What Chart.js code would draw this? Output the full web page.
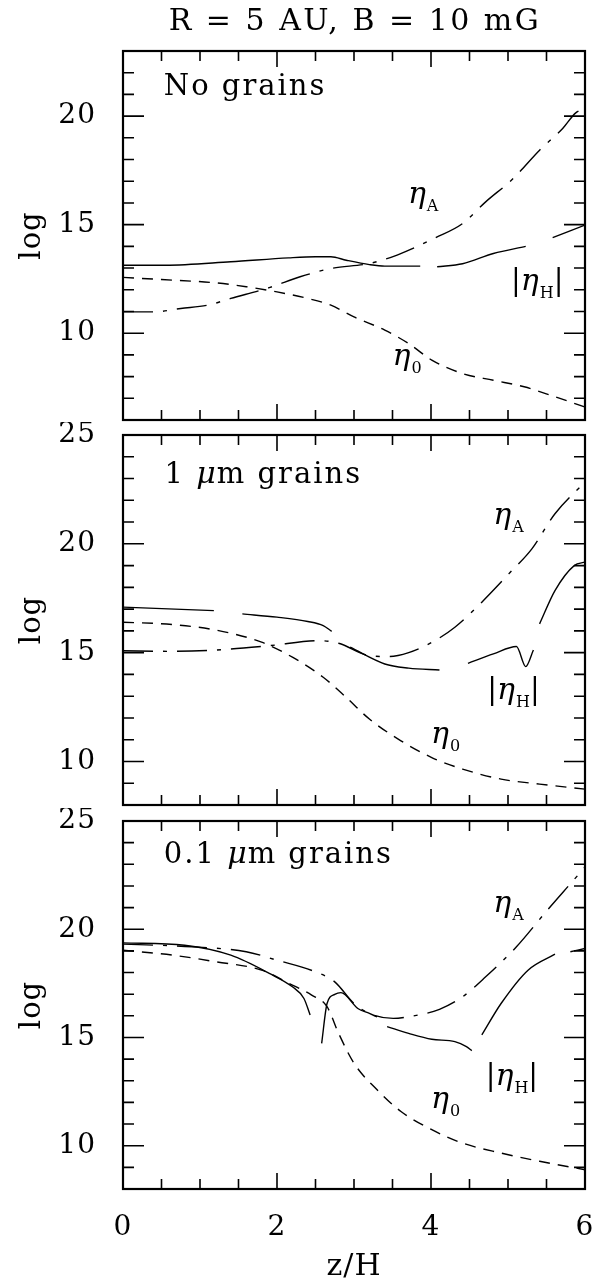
<!DOCTYPE html>
<html lang="en">
<head>
<meta charset="UTF-8">
<title>Resistivity profiles, R = 5 AU</title>
<style>
  body { margin: 0; background: #fff; width: 596px; height: 1282px; position: relative; overflow: hidden; }
  canvas { position: absolute; left: 0; }
  #c1 { top: 0; }
  #c2 { top: 422px; }
  #c3 { top: 808px; }
</style>
</head>
<body>
<canvas id="c1" width="596" height="425"></canvas>
<canvas id="c2" width="596" height="393"></canvas>
<canvas id="c3" width="596" height="474"></canvas>

<script src="https://cdn.jsdelivr.net/npm/chart.js"></script>
<script>
// [z/H, log eta] pairs; null marks a break in the curve
const noGrainsOhm = [[0,12.57],[0.5,12.47],[1.2,12.32],[1.6,12.14],[2.0,11.9],[2.4,11.6],[2.7,11.29],[3.0,10.75],[3.4,10.14],[3.71,9.52],[4.01,8.76],[4.41,8.14],[4.81,7.83],[5.21,7.53],[5.61,7.07],[6.0,6.6]];
const noGrainsHall = [[0,13.13],[0.55,13.13],[1.4,13.29],[2.15,13.47],[2.5,13.52],[2.7,13.52],[2.9,13.36],[3.2,13.16],[3.4,13.09],[3.86,13.09],[3.95,null],[4.08,13.06],[4.41,13.2],[4.81,13.67],[5.23,14.0],[5.4,null],[5.58,14.4],[6.0,14.98]];
const noGrainsAmbi = [[0,10.98],[0.4,10.98],[0.75,11.14],[1.1,11.29],[1.4,11.6],[1.9,12.1],[2.3,12.6],[2.7,12.98],[3.2,13.21],[3.56,13.6],[4.06,14.4],[4.41,15.05],[4.71,16.05],[5.06,17.1],[5.41,18.43],[5.71,19.43],[5.88,20.15],[6.0,20.35]];

const micronOhm = [[0,16.4],[0.65,16.29],[1.2,16.04],[1.8,15.48],[2.2,14.79],[2.6,13.87],[2.9,12.94],[3.2,11.95],[3.61,10.95],[4.01,10.18],[4.41,9.65],[4.91,9.19],[5.41,8.96],[6.0,8.73]];
const micronHall = [[0,17.09],[1.18,16.93],[1.35,null],[1.55,16.78],[2.0,16.63],[2.4,16.43],[2.6,16.24],[2.71,15.98],[2.83,null],[2.95,15.25],[3.4,14.48],[3.71,14.29],[4.11,14.2],[4.3,null],[4.48,14.51],[4.81,14.94],[5.11,15.28],[5.23,14.36],[5.33,15.12],[5.37,null],[5.41,16.32],[5.61,17.85],[5.86,19.0],[6.0,19.16]];
const micronAmbi = [[0,15.09],[0.6,15.06],[1.2,15.12],[1.9,15.32],[2.55,15.55],[2.8,15.43],[3.2,14.86],[3.46,14.82],[3.71,15.0],[4.01,15.47],[4.31,16.17],[4.66,17.32],[5.01,18.62],[5.31,19.77],[5.61,21.38],[6.0,22.84]];

const tenthOhm = [[0,19.03],[0.65,18.8],[1.2,18.5],[1.8,18.11],[2.2,17.42],[2.45,16.96],[2.65,16.42],[2.8,15.19],[3.0,13.81],[3.3,12.58],[3.61,11.58],[4.01,10.74],[4.41,10.12],[4.91,9.66],[5.41,9.28],[6.0,8.89]];
const tenthHall = [[0,19.37],[0.8,19.26],[1.4,18.8],[1.9,17.96],[2.2,17.34],[2.35,16.8],[2.43,16.04],[2.5,null],[2.58,14.73],[2.65,16.57],[2.75,16.99],[2.83,17.07],[3.05,16.34],[3.2,16.11],[3.3,15.95],[3.38,null],[3.43,15.5],[3.71,15.19],[4.01,14.92],[4.31,14.81],[4.46,14.58],[4.53,14.39],[4.6,null],[4.66,15.12],[4.91,16.57],[5.26,18.11],[5.61,18.85],[5.7,null],[5.81,18.96],[6.0,19.11]];
const tenthAmbi = [[0,19.31],[0.9,19.19],[1.6,18.96],[2.0,18.57],[2.5,18.03],[2.75,17.57],[3.0,16.57],[3.2,16.11],[3.51,15.88],[3.71,15.96],[4.11,16.3],[4.41,16.88],[4.71,17.8],[5.11,19.19],[5.51,20.88],[5.81,22.1],[6.0,22.87]];

const xTicks = [0, 2, 4, 6];
const serif = '"DejaVu Serif", serif';

const OHM_DASH = [11, 8];
const AMBI_DASH = [30, 10, 4, 10];

function line(pts, dash) {
  return {
    data: pts.map(([x, y]) => ({ x, y })),
    borderColor: '#000',
    borderWidth: 1.4,
    borderDash: dash,
    pointRadius: 0,
    fill: false,
    cubicInterpolationMode: 'monotone'
  };
}

// frame with inward ticks on all four sides, plus free text
const frameAndText = {
  id: 'frameAndText',
  beforeDraw(chart) {
    chart.ctx.letterSpacing = '1px';
  },
  afterDraw(chart, args, opts) {
    const { ctx, chartArea: a, scales: { x, y } } = chart;
    ctx.save();
    ctx.strokeStyle = '#000';
    ctx.lineWidth = 1.6;
    ctx.beginPath();
    for (let z = 0.5; z < 6; z += 0.5) {
      const px = x.getPixelForValue(z);
      const len = z % 2 === 0 ? 16 : 10;
      ctx.moveTo(px, a.bottom); ctx.lineTo(px, a.bottom - len);
      ctx.moveTo(px, a.top); ctx.lineTo(px, a.top + len);
    }
    for (let v = Math.ceil(y.min); v <= y.max; v++) {
      const py = y.getPixelForValue(v);
      if (py <= a.top + 1 || py >= a.bottom - 1) continue;
      const len = v % 5 === 0 ? 21 : 11;
      ctx.moveTo(a.left, py); ctx.lineTo(a.left + len, py);
      ctx.moveTo(a.right, py); ctx.lineTo(a.right - len, py);
    }
    ctx.stroke();
    ctx.lineWidth = 2.2;
    ctx.strokeRect(a.left, a.top, a.right - a.left, a.bottom - a.top);

    ctx.fillStyle = '#000';
    ctx.textBaseline = 'alphabetic';
    if (opts.title) {
      ctx.font = '30px ' + serif;
      ctx.letterSpacing = '2.5px';
      ctx.textAlign = 'center';
      ctx.fillText(opts.title, (a.left + a.right) / 2 + 1, 30);
    }
    ctx.textAlign = 'left';
    (opts.texts || []).forEach(t => {
      let px = x.getPixelForValue(t.z);
      const py = y.getPixelForValue(t.v);
      t.parts.forEach(p => {
        ctx.font = p.font;
        ctx.letterSpacing = (p.ls || 0) + 'px';
        ctx.fillText(p.s, px, py + (p.dy || 0));
        px += ctx.measureText(p.s).width + (p.gap || 0);
      });
    });
    ctx.restore();
    ctx.letterSpacing = '0px';
  }
};

const ITAL = 'italic 30px ' + serif;
const BODY = '29px ' + serif;
const SUB = '16px ' + serif;

function etaLabel(z, v, sub, bars) {
  const parts = [{ s: 'η', font: ITAL, gap: 1 }, { s: sub, font: SUB, dy: 8 }];
  if (bars) {
    parts.unshift({ s: '|', font: BODY, gap: 0 });
    parts.push({ s: '|', font: BODY });
  }
  return { z, v, parts };
}

function panelTitle(z, v, size) {
  const parts = size
    ? [{ s: size + ' ', font: BODY, ls: 2 }, { s: 'μ', font: ITAL, ls: 1 }, { s: 'm grains', font: BODY, ls: 2 }]
    : [{ s: 'No grains', font: BODY, ls: 2 }];
  return { z, v, parts };
}

function makePanel(id, yMin, yMax, sets, texts, o) {
  return new Chart(document.getElementById(id), {
    type: 'line',
    data: { datasets: sets },
    plugins: [frameAndText],
    options: {
      responsive: false,
      animation: false,
      layout: { padding: { top: o.top, right: 11, bottom: o.bottom, left: 0 } },
      plugins: {
        legend: { display: false },
        tooltip: { enabled: false },
        frameAndText: { texts, title: o.title }
      },
      scales: {
        x: {
          type: 'linear', min: 0, max: 6,
          display: !!o.showX,
          grid: { display: false },
          border: { display: false },
          afterBuildTicks: s => { s.ticks = xTicks.map(value => ({ value })); },
          ticks: { padding: 14, color: '#000', font: { family: serif, size: 28 } },
          title: { display: true, text: 'z/H', color: '#000', font: { family: serif, size: 30, lineHeight: 1 }, padding: 0 },
          afterFit: s => {
            s.paddingLeft = 0; s.paddingRight = 0;
            if (o.showX) s.height = 93;
          }
        },
        y: {
          min: yMin, max: yMax,
          grid: { display: false },
          border: { display: false },
          ticks: { stepSize: 5, includeBounds: false, padding: 19, color: '#000', font: { family: serif, size: 28 } },
          title: { display: true, text: 'log', color: '#000', font: { family: serif, size: 29 }, padding: { top: 15, bottom: 0 } },
          afterFit: s => {
            s.width = 123;
            s.paddingTop = 0; s.paddingBottom = 0;
          }
        }
      }
    }
  });
}

makePanel('c1', 6, 23, [
  line(noGrainsOhm, OHM_DASH),
  line(noGrainsHall, []),
  line(noGrainsAmbi, AMBI_DASH)
], [
  panelTitle(0.53, 20.97),
  etaLabel(3.7, 15.99, 'A'),
  etaLabel(5.04, 11.98, 'H', true),
  etaLabel(3.5, 8.53, '0')
], { top: 51, bottom: 5, title: 'R = 5 AU, B = 10 mG' });

makePanel('c2', 8, 25, [
  line(micronOhm, OHM_DASH),
  line(micronHall, []),
  line(micronAmbi, AMBI_DASH)
], [
  panelTitle(0.54, 22.8, '1'),
  etaLabel(4.81, 20.92, 'A'),
  etaLabel(4.73, 12.89, 'H', true),
  etaLabel(4.0, 10.87, '0')
], { top: 13, bottom: 10 });

makePanel('c3', 8, 25, [
  line(tenthOhm, OHM_DASH),
  line(tenthHall, []),
  line(tenthAmbi, AMBI_DASH)
], [
  panelTitle(0.53, 23.04, '0.1'),
  etaLabel(4.81, 20.78, 'A'),
  etaLabel(4.71, 12.81, 'H', true),
  etaLabel(4.0, 11.75, '0')
], { top: 13, bottom: 0, showX: true });
</script>
</body>
</html>
